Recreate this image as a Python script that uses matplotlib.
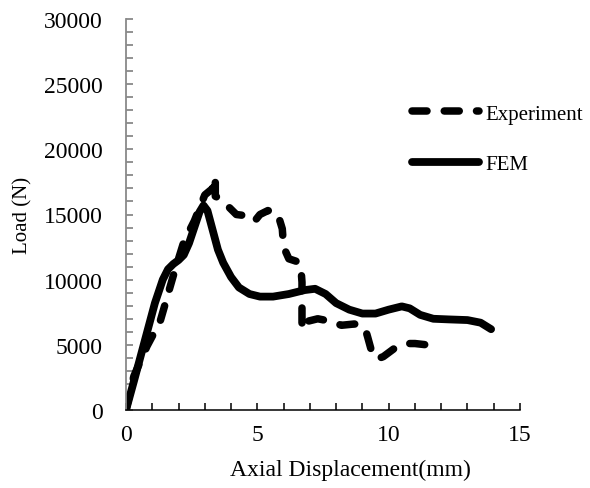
import matplotlib
matplotlib.use("Agg")
import matplotlib.pyplot as plt
from matplotlib.ticker import MultipleLocator

plt.rcParams['font.family'] = ['Liberation Serif', 'DejaVu Serif']

# Experiment curve (dashed)
exp_x = [0, 0.3, 0.8, 1.3, 1.8, 2.2, 2.6, 3.0, 3.3, 3.4, 3.4, 3.6, 3.9, 4.2, 4.6, 4.9,
         5.1, 5.4, 5.7, 5.8, 5.95, 6.0, 6.2, 6.5, 6.65, 6.7, 6.7, 6.9, 7.3, 7.8, 8.2,
         8.7, 9.1, 9.2, 9.35, 9.55, 9.8, 10.2, 10.7, 11.0, 11.45]
exp_y = [0, 2600, 4900, 6800, 10300, 12900, 14500, 16500, 17000, 17900, 16400, 16200,
         15600, 15000, 14900, 14500, 15000, 15300, 15200, 14900, 13900, 12500, 11600,
         11400, 11200, 9800, 6200, 6800, 7000, 6800, 6500, 6600, 6300, 5600, 4500, 3900,
         4100, 4700, 5100, 5100, 5000]

# FEM curve (solid)
fem_x = [0, 0.3, 0.7, 1.1, 1.4, 1.6, 1.8, 2.0, 2.2, 2.4, 2.6, 2.8, 2.95, 3.1, 3.3, 3.5,
         3.7, 4.0, 4.3, 4.7, 5.1, 5.6, 6.2, 6.8, 7.2, 7.6, 8.0, 8.5, 9.0, 9.5, 10.0,
         10.5, 10.8, 11.2, 11.7, 12.3, 13.0, 13.5, 13.9]
fem_y = [0, 2200, 5200, 8200, 10000, 10800, 11200, 11500, 11900, 12800, 14000, 15200,
         15700, 15300, 13800, 12300, 11300, 10200, 9400, 8900, 8700, 8700, 8900, 9200,
         9300, 8900, 8200, 7700, 7400, 7400, 7700, 7950, 7800, 7300, 7000, 6950, 6900,
         6700, 6200]

labels = ["Experiment", "FEM"]
x_label = "Axial Displacement(mm)"
y_label = "Load (N)"

fig = plt.figure(figsize=(5.9, 4.89), dpi=100)
ax = fig.add_axes([126/590, 1 - 411/489, (520-126)/590, (411-20)/489])

ax.plot(exp_x, exp_y, color='black', lw=5.4, linestyle=(0, (2.0, 2.3)),
        dash_capstyle='round', solid_joinstyle='round', label=labels[0])
ax.plot(fem_x, fem_y, color='black', lw=5.6, solid_capstyle='round',
        solid_joinstyle='round', label=labels[1])

ax.set_xlim(0, 15)
ax.set_ylim(0, 30000)
ax.xaxis.set_major_locator(MultipleLocator(5))
ax.xaxis.set_minor_locator(MultipleLocator(1))
ax.yaxis.set_major_locator(MultipleLocator(5000))
ax.yaxis.set_minor_locator(MultipleLocator(1000))

for s in ['top', 'right']:
    ax.spines[s].set_visible(False)
ax.spines['left'].set_color('#898989')
ax.spines['left'].set_linewidth(1.3)
ax.spines['bottom'].set_color('black')
ax.spines['bottom'].set_linewidth(1.1)

ax.tick_params(axis='y', which='both', direction='in', color='#898989', width=1.3,
               length=5, labelsize=17, pad=17)
ax.tick_params(axis='x', which='both', direction='in', color='black', width=1.1,
               length=5, labelsize=17, pad=10)

ax.set_xlabel(x_label, fontsize=17, labelpad=8)
ax.xaxis.set_label_coords((350 - 126) / 394, -0.125)
ax.set_ylabel(y_label, fontsize=15, labelpad=8)

leg = ax.legend(loc='upper left', bbox_to_anchor=(412/590, 1 - 105/489),
                bbox_transform=fig.transFigure, frameon=False, fontsize=15,
                handlelength=3.2, handletextpad=0.3, labelspacing=1.5,
                borderpad=0, borderaxespad=0)

fig.savefig("out.png", dpi=100)
